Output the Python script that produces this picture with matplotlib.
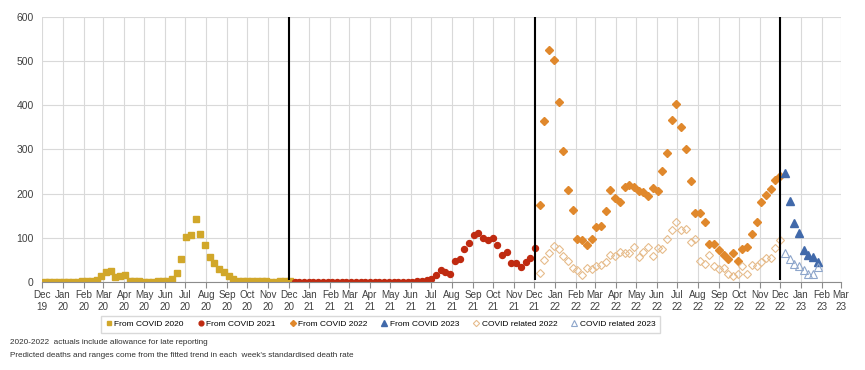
"""
Weekly COVID deaths, Dec 2019 - Feb 2023, split by year series.
Produces: out.png
"""

import pandas as pd
import matplotlib.pyplot as plt
import matplotlib.dates as mdates

plt.rcParams['font.family'] = ['Liberation Sans', 'DejaVu Sans']

# weekly values, one list per series
covid_2020 = [0, 0, 0, 0, 0, 0, 0, 0, 2, 3, 3, 4, 13, 23, 25, 11, 13, 15,
              3, 3, 3, 0, 0, 0, 3, 2, 3, 6, 20, 51, 102, 107, 143, 108, 84,
              57, 42, 30, 23, 14, 6, 3, 1, 1, 2, 3, 2, 1, 0, 0, 1, 2, 3]
covid_2021 = [0, 0, 0, 0, 0, 0, 0, 0, 0, 0, 0, 0, 0, 0, 0, 0, 0, 0, 0, 0,
              0, 0, 0, 0, 0, 0, 1, 3, 5, 7, 15, 26, 23, 18, 48, 53, 75, 89,
              107, 110, 100, 94, 99, 84, 60, 67, 44, 44, 33, 45, 55, 76]
covid_2022 = [175, 364, 526, 503, 408, 296, 209, 163, 97, 94, 83, 98, 125,
              127, 161, 209, 189, 180, 216, 220, 215, 205, 204, 194, 212, 205,
              252, 292, 366, 403, 351, 300, 228, 157, 156, 135, 87, 87, 73,
              61, 52, 65, 47, 75, 80, 108, 135, 181, 196, 210, 231, 239]
covid_2023 = [247, 183, 133, 110, 73, 60, 57, 46]
related_2022 = [21, 50, 65, 82, 74, 59, 48, 32, 27, 15, 32, 30, 35, 38, 45,
                60, 59, 67, 65, 65, 79, 57, 68, 79, 59, 77, 74, 97, 118, 135,
                118, 119, 91, 97, 48, 41, 60, 35, 29, 31, 18, 14, 18, 35, 18,
                39, 35, 45, 54, 54, 77, 96]
related_2023 = [65, 52, 40, 37, 27, 17, 18, 34]

first_week = "2019-12-05"
year_breaks = ["2020-12-02", "2021-12-02", "2022-12-01"]

# week dates: series follow each other in time
n_all = len(covid_2020) + len(covid_2021) + len(covid_2022) + len(covid_2023)
weeks = pd.date_range(first_week, periods=n_all, freq="7D")
i1 = len(covid_2020)
i2 = i1 + len(covid_2021)
i3 = i2 + len(covid_2022)
d2020, d2021, d2022, d2023 = weeks[:i1], weeks[i1:i2], weeks[i2:i3], weeks[i3:]

fig = plt.figure(figsize=(8.65, 3.7), dpi=100)
ax = fig.add_axes([0.0486, 0.238, 0.9234, 0.716])

ax.plot(d2020, covid_2020, ls='none', marker='s', ms=3.8, color='#D1A72A',
        label='From COVID 2020')
ax.plot(d2021, covid_2021, ls='none', marker='o', ms=4.3, color='#BF2A10',
        label='From COVID 2021')
ax.plot(d2022, covid_2022, ls='none', marker='D', ms=3.8, color='#E0882C',
        label='From COVID 2022')
ax.plot(d2023, covid_2023, ls='none', marker='^', ms=5.5, color='#4169AA',
        label='From COVID 2023')
ax.plot(d2022, related_2022, ls='none', marker='D', ms=4, mfc='none',
        mec='#E6BC8C', mew=0.8, label='COVID related 2022')
ax.plot(d2023, related_2023, ls='none', marker='^', ms=5.5, mfc='none',
        mec='#8EA6CB', mew=0.8, label='COVID related 2023')

for d in year_breaks:
    ax.vlines(pd.Timestamp(d), 5, 600, color='black', lw=1.5, zorder=3)

ax.set_ylim(0, 600)
ax.set_yticks(range(0, 601, 100))
ax.set_xlim(pd.Timestamp("2019-12-01"), pd.Timestamp("2023-03-01"))
ax.xaxis.set_major_locator(mdates.MonthLocator())
ax.xaxis.set_major_formatter(mdates.DateFormatter("%b\n%y"))

ax.grid(True, color='#D9D9D9', lw=0.8)
ax.set_axisbelow(True)
for s in ['top', 'right', 'left']:
    ax.spines[s].set_visible(False)
ax.spines['bottom'].set_color('#8C8C8C')
ax.tick_params(axis='x', colors='#8C8C8C', length=4, labelsize=7.1,
               labelcolor='#404040', pad=2)
ax.tick_params(axis='y', length=0, labelsize=7.5, labelcolor='#404040', pad=6)

fig.legend(loc='center', bbox_to_anchor=(0.44, 0.123), ncol=6, fontsize=6,
           frameon=True, fancybox=False, edgecolor='#D0D0D0',
           handlelength=0.8, handletextpad=0.3, columnspacing=1.6,
           markerscale=0.8, borderpad=0.5)

fig.text(0.012, 0.073, "2020-2022  actuals include allowance for late reporting",
         fontsize=5.9, color='#303030', va='center')
fig.text(0.012, 0.040, "Predicted deaths and ranges come from the fitted trend "
         "in each  week's standardised death rate",
         fontsize=5.9, color='#303030', va='center')

fig.savefig("out.png", dpi=100)
